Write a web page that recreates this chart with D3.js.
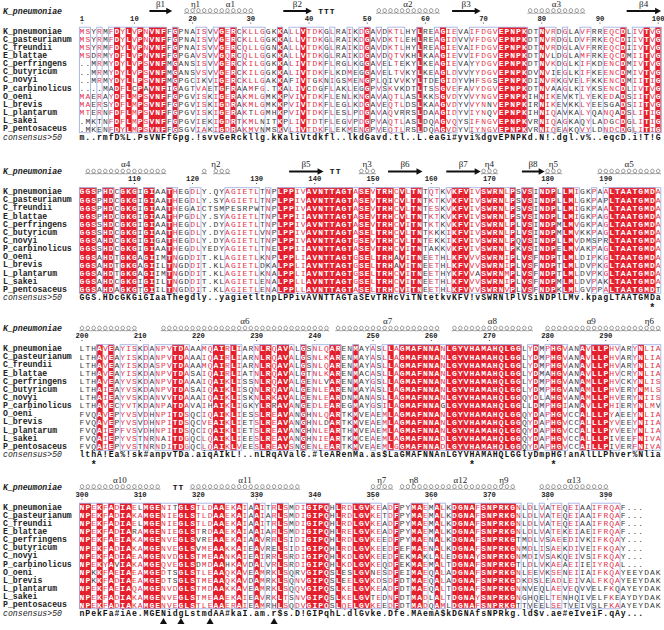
<!DOCTYPE html>
<html><head><meta charset="utf-8">
<script src="https://cdn.jsdelivr.net/npm/d3@7"></script>
<style>body{margin:0;background:#fff}svg{display:block}</style>
</head><body>
<svg id="c" width="664" height="630"></svg>
<script>
// ---------------- DATA ----------------
const names = ["K_pneumoniae","C_pasteurianum","C_freundii","E_blattae","C_perfringens","C_butyricum","C_novyi","P_carbinolicus","O_oeni","L_brevis","L_plantarum","L_sakei","P_pentosaceus"];
const consensusName = "consensus>50";
const headerName = "K_pneumoniae";

const block1 = [
"MSYRMFDYLVPNVNFFGPNAISVVGERCKLLGGKKALLVTDKG"+"LRAIKDGAVDKTLHYLREAGIEVAIFDGVEPNPKDTNVRDGLAVFRREQCDLIVTVG",
"MSYRMFDYLVPNVNFFGPNAISVVGERCKLLGGKKALLVTDKG"+"LRAIKDGAVDKTLEHLREAGIDVVVFDGVEPNPKDTNVRDGLDVFRKEQCDIIVTVG",
"MSYRMFDYLVPNVNFFGPNAISVVGERCQLLGGNKALLVTDKG"+"LRAIKDGAVDKTLHYLREAGIEVAIFDGVEPNPKDTNVRDGLAVFRREQCDIIVTVG",
"MSDRMYDFLVPNVNFFGPGAVSVVGQRCQLLGGKKALLVTDKG"+"LRAIKDGAVDQTVKHLKAAGIEVVIFDGVEPNPKDTNVLDGLAMFRKEQCDMIITVG",
"..MRMYDYLVPSVNFMGANSISVVGERCKILGGKKALIVTDKF"+"LRGLKGGAVELTEKYLKEAGIEVAYYDGVEPNPKDTNVKDGLKIFKDENCDMIVTVG",
"..MRMYDYLVPSVNFMGANSVSVVGERCKILGGKKALIVTDKF"+"LKDMEGGAVELTVKYLKEAGLDVVYYDGVEPNPKDVNVIEGLKIFKEENCDMIVTVG",
"..MRMYDYLLPSVNFMGPGCIKVIGERCKLLGAKKAFIVTGKN"+"IGSMENGPLQIVVKYLTDEGIDYVHFSGSEPNPKDINVRKGVELFKKENCDMIITIG",
"....MADFLCPAVNFIGAGTVAETGFRAAMFG.TKALIVCDGF"+"LAKLEGGPVSKVKDTLTSSGVEFAVYDGVEPNPKDTNVAAGLKIYKSENCDLIVTVG",
"MAERAYDFLMPSVNFFGPGVISKIGERAKMLGMKKPVIVTDKF"+"LENLKNGAVAQTLASLKKSGVDYVVYNGVEPNPKIHNIKEVKTLYEKEDADSIITVG",
"MAERSYDFLMPSVNFFGPGVISKIGDRAKMLGMKKPVIVTDKF"+"LEGLKDGAVEQTLDSLKAAGVDYVVYNNVEPNPKIRNIKEVKKLYEESGADSIITVG",
"MTERNFDFLMPSVNFFGPGVISKIGERAKTLGMHKPVIVTDKF"+"LESLPDGAVAQVRRSLDAAGIDYVIYNQVEPNPKIHNIQAVKALYQANQADSLITIG",
".MKTNFDFLMPSVNFFGPGVIEKIGDRTKMLNITKPLIVTDTF"+"LEGVPDGPVAQTLASLDQAGVQYSIFNGVEPNPKVRNIQAGKAQYLADGCDGLITIG",
".MKENFDYLMPSVNFFGSGVIAKIGDRAKMVNMSKVLIVTDKF"+"LEKMENGPVEQTLRSLDQAGVDYVIYNGVEPNPKVRNIQEAKQVYLDNDCDGLITIG"
];
const block2 = [
"GGSPHDCGKGIGIAATHEGDLY.QYAGIETLTNPLPPIVAVNT"+"TAGTASEVTRHCVLTNTQTKVKFVIVSWRNLPSVSINDPLLMIGKPAALTAATGMDA",
"GGSPHDCGKGIGIAATHEGDLY.SYAGIETLTNPLPPIVAVNT"+"TAGTASEVTRHCVLTNTKTKVKFVIVSWRNLPSVSINDPLLMLGKPAPLTAATGMDA",
"GGSPHDCGKGIGIAATHEGAICTSMPESRPWTNPLPPIVAVNT"+"TAGTASEVTRHCVLTNTESKVKFVIVSWRNLPSVSINDPLLMIGKPAALTAATGMDA",
"GGSPHDCGKGIGIAATHPGDLY.SYAGIETLTNPLPPIIAVNT"+"TAGTASEVTRHCVLTNTKTKVKFVIVSWRNLPSVSINDPLLMIGKPAGLTAATGMDA",
"GGSSHDCGKGIGIAATHEGDLY.DYAGIETLTNPLPPIVAVNT"+"TAGTASEVTRHCVITNTKTKVKFVIVSWRNLPLVSINDPMLMVGKPAGLTAATGMDA",
"GGSSHDCGKGIGIAATHEGDLY.DYAGIETLVNPLPPIVAVNT"+"TAGTASELTRHCVLTNTKKKIKFVIVSWRNLPLVSINDPMLMVKKPAGLTAATGMDA",
"GGSAHDCGKGIGIGATHEGDLY.DYAGIETLTNPLPPIVAVNT"+"TAGTGSEVTRHCVLTNTEKKIKFVIVSWRNLPQVSINDPLLMVDMSPRLTAATGMDA",
"GGSSHDCGKGIGIAATHEGDLYEDYAGIETLTNELPPIIAVNT"+"TAGTASEVTRHCVITNTAKKVKFVIVSWRNLPKVSINDPELMVAKPAGLTAATGMDA",
"GGSAHDTGKGAGIIMTNGDDIT.KLAGIETLKNPLPPLIAVNT"+"TAGTGSELTRHAVITNEETHLKFVVVSWRNIPLVSFNDPTLMLDIPKGLTAATGMDA",
"GGSAHDTGKGAGIILTNGDDIT.KLAGIETLDKALPPLIAVNT"+"TAGTGSELTRHAVITNEETHLKFVVVSWRNIPLVSFNDPTLMLDVPKGLTAATGMDA",
"GGSAHDTGKGAGIIMTNGDDIT.KLAGIETLKNALPPLIAVNT"+"TAGTGSELTRHCVITNEETHYKFVVASWRNMPLVSFNDPTLMLDVPKGLTAATGMDA",
"GGSAHDCGKGIGIILTNGDDIT.KLAGIETLENALPPLLAVNT"+"TAGTGSELTRHCVITNEETHLKFVVVSWRNIPLVSFNDPMLMLDVPAKLTAATGMDA",
"GGSAHDAGKGTGIILTNGDDIT.KLAGIETLENALPPLLAVNT"+"TAGTASELTRHCVITNEETHLKFVVVSWRNVPLVSFNDPKLMLGVPPALTAATGMDT"
];
const block3 = [
"LTHAVEAYISKDANPVTDAAAMQAIRLIARNLRQAVALGSNLQ"+"ARENMAYASLLAGMAFNNANLGYVHAMAHQLGGLYDMPHGVANAVLLPHVARYNLIA",
"LTHAVEAYISKDANPVTDAAAIQAIRLIARNLRQAVALGSNLK"+"ARENMAYASLLAGMAFNNANLGYVHAMAHQLGGLYDMPHGVANAVLLPHVARYNLIA",
"LTHAVEAYISKDASPVTDAAAMQAIRLIARNLRQAVALGSNLQ"+"ARENMAYASLLAGMAFNNANLGYVHAMAHQLGGLYDMPHGVANAVLLPHVARYNLIA",
"LTHAVEAYISKDANPVTDASAIQAIRLIATNLRQAVALGTNLK"+"ARENMACASLLAGMAFNNANLGYVHAMAHQLGGLYDMAHGVANAVLLPHVCRYNLIA",
"LTHAVEAYVSKDANPVTDAAAIQAIKLISSNLRQAVALGENLV"+"ARENMAYGSLLAGMAFNNANLGYVHAMAHQLGGLYDMPHGVANAMLLPHVCKYNLIS",
"LTHAIEAYVSKDANPVTDASAIQAIKLISQNLRQAVALGENLE"+"ARENMAYASLLAGMAFNNANLGYVHAMAHQLGGLYDMPHGVANAMLLPHVERYNMLS",
"LTHAIEAYVSKDANVVTDAAAIQAIKLISKNLRKAVALGENLE"+"ARDNMANASLLAGMAFNNANLGYVHAMAHQLGGQYDLAHGVANAMLLPHVERYNIIS",
"LTHAVECYVTKDANPATDAVAIHAIKLIGKYLRRAVANGEDLE"+"AREGMAYGSILAGMAFNNAGLGYVHAMAHQLGGLLDMPHGIANAVLLPHIERYNLMV",
"FVQAVEPYVSVDHNPITDSQCIQAIKLIESSLREAVANGHNLQ"+"ARTKMVEAEMLAGMAFNNANLGYVHAMAHQLGGQYDAPHGVCCALLLPYAEEYNLIA",
"FVQAVEPYVSVDHNPITDSQCVEAIKLIETSLREAVANGHNLD"+"ARTKMVEAEMLAGMAFNNANLGYVHAMAHQLGGQYDAPHGVCCALLLPYVEEYNIIA",
"FVQAIEPFVSVDHNPITDSQCIQAIKLIETSLREAVANGHNLE"+"ARTHMVEAEMLAGMAFNNANLGYVHAMAHQLGGQYDAPHGVCCALLLPYVEEYNLIA",
"FVQAIEPYVSTNRNAITDGQCLQAIKLIEESLREAVANGHNIE"+"ARTKMCEAEMLAGMAFNNADLGYVHAMAHQLGGQYDAPHGVCCALLLPIVEEFNIVA",
"FVQAIEPYVSTNRNDITDGQCLQAIKLVEESLREAVSNGENLE"+"ARTKMVEAEMLGGMAFNNADLGYVHAMAHQLGGQYDAPHGVCCAILLPIVERFNIVA"
];
const block4 = [
"NPEKFADIAELMGENITGLSTLDAAEKAIAAITRLSMDIGIPQHLRDLGVKEADFPYMAEMALKDGNAFSNPRKGN"+"LDLVAT"+"EQEIAAIFRQAF...",
"NPEKFADIAKAMGENIEGLSTLDAAEKAIAAIARLSMDIGIPQHLRDLGVKETDFPYMAEMALKDGNAFSNPRKGN"+"LDLVAT"+"EQEIAAIFRQAF...",
"NPEKFADIAELMGENIEGLSTLDAAEKAIAAITRLSMDIGIPQHLRDLGVKEADFPYMAEMALKDGNAFSNPRKGN"+"LDLVAT"+"EQEIAAIFRQAF...",
"NPEKFADIARAMGENIEGLSTRDAAEKAIAAIARLSMDIGIPQHLRELGVKEADFPYMAEMALKDGNAFSNPRKGN"+"LDLVAT"+"EKEIAEIFRQAF...",
"NPEKFAEIAKAMGENVEGLSVREAAEKAIAAVRRLSIDIGIPQHLRDLGVKEEDFPYMAENALKDGNAFSNPRKGT"+"MDLVSA"+"EEDIVKIFKQAY...",
"NPEKFADIAKAMGENVEGLSVMEAAKKAIEAVRELSIDIGIPQHLRDLGVKEEDFEFMAENALKDGNAFSNPRKGN"+"MDLISA"+"EKDIVEIFKQAY...",
"NPEKFADIAEAMGENVDGLSTMEAANKAIEAIRRLSRDIGIPQHLKDLGVKEEDFEKMAKLALEDGNAYSNPRKGN"+"MDIVSA"+"KQEIVSIFKQAY...",
"NPEKYAVIAKAMGEQVEGLSDMDAAHKAVDALVRLSRDIGIPQHLKDLGVKEQDFEKMAEMALTDGNAFSNPRKGT"+"LDLVKA"+"EAEIIEIYRQAL...",
"NPKKFAEIAEAMGEDTSGLSTLEAAQKAVEAMRKLSQRVGIPQSLESLGVNESDFEIMAEQALADGNAFSNPRKGN"+"LEEVKS"+"ENEIIAIFKQAYEEYDAK",
"NPKKFADIAEAMGEDTSGLSTMEAAQKAVDAMRKLSQNVGIPQSLEELGVKDSDFDTMAEQALADGNAFSNPRKGD"+"KDSLEA"+"DLEIVALFKQAYEEYDAK",
"NPEKFAEIAQAMGENVDGLSTMDAAKKAVEAMRKLSQQVGIPQSLKELGVKEADFDTMAEQALTDGNAFSNPRKGN"+"NVEQLA"+"EVEQVVELFKQAYEYDAK",
"NPEKFADIAKAMGENVEGLSTMEAAEKAIEAVRKLTSNVGIPQSLKELGVTEDNFDTMADLALTDGNAYSNPRKGN"+"GHQELT"+"ENHQIVELFKEAYDYDAK",
"NPEKFADIAKAMGENVEGLSTLEAAERAIEAMRHLSQDVGIPQSLQELGVKEEDFDTMADQAMLDGNAFSNPRKGT"+"TVEELS"+"ETVEIVSLFKAAYEYDAK"
];
const consensus = [
"m..rmfD%L.PsVNFfGpg.!svvGeRckllg.kKaliVtdkf"+"l..lkdGavd.tl..L.eaGi#yvi%dgvEPNPKd.N!.dgl.v%..eqcD.i!T!G",
"GGS.HDcGKGiGIaaThegdly..yagietltnpLPPivAVNT"+"TAGTaSEvTRHcViTNtetkvKFV!vSWRNlPlVSiNDPlLMv.kpagLTAATGMDa",
"lthA!Ea%!sk#anpvTDa.aiqAIkL!..nLRqAValG.#le"+"ARenMa.as$LaGMAFNNAnLGYVHAMAHQLGGlyDmpHG!anAlLLPhver%Nlia",
"nPekFa#iAe.MGENidgLstmdAA#kaI.am.r$s.D!GIPqhL.dlGvke.Dfe.MAemA$kDGNAfsNPRkg."+"ld$v.a"+"e#eIveiF.qAy..."
];
const blocks = [block1, block2, block3, block4];
const firstResidue = [1, 101, 200, 300];

// secondary structure of K_pneumoniae: [block, kind, fromCol, toCol, label]
const secStruct = [
 [0,"beta",13,16,"β1"],[0,"helix",19,22,"η1"],[0,"helix",23,30,"α1"],[0,"beta",36,40,"β2"],
 [0,"turn",42,44,"TTT"],[0,"helix",52,62,"α2"],[0,"beta",65,69,"β3"],[0,"helix",78,87,"α3"],[0,"beta",95,100,"β4"],
 [1,"helix",2,15,"α4"],[1,"helix",22,26,"η2"],[1,"beta",37,42,"β5"],[1,"turn",44,45,"TT"],[1,"helix",49,51,"η3"],
 [1,"beta",54,59,"β6"],[1,"beta",64,69,"β7"],[1,"helix",70,72,"η4"],[1,"beta",77,80,"β8"],[1,"helix",81,83,"η5"],[1,"helix",90,100,"α5"],
 [2,"helix",1,10,""],[2,"helix",15,43,"α6"],[2,"helix",45,62,"α7"],[2,"helix",65,78,"α8"],[2,"helix",81,96,"α9"],[2,"helix",97,100,"η6"],
 [3,"helix",1,14,"α10"],[3,"turn",17,18,"TT"],[3,"helix",20,38,"α11"],[3,"helix",51,54,"η7"],[3,"helix",56,60,"η8"],
 [3,"helix",61,71,"α12"],[3,"helix",72,75,"η9"],[3,"helix",80,91,"α13"]
];
// markers below consensus: [block, col, kind]
const markers = [[1,99,"star"],[2,3,"star"],[2,68,"star"],[2,82,"star"],
 [3,15,"tri"],[3,18,"tri"],[3,23,"tri"],[3,34,"tri"]];

// ---------------- LAYOUT / STYLE ----------------
const svg = d3.select("#c");
svg.append("rect").attr("width",664).attr("height",630).attr("fill","#fff");
const nCols = 100, colW = 5.82, left = 79.1, rowH = 8.15;
const blockTops = [0, 160.5, 317.5, 476];
const x = d3.scaleBand().domain(d3.range(1, nCols+1)).range([left, left + nCols*colW]).padding(0);
const bw = x.bandwidth();
const cx = c => x(c) + bw/2;
const MONO = "'Liberation Mono','DejaVu Sans Mono',monospace";
const SERIF = "'Liberation Serif','DejaVu Serif',serif";
const RED = "#e5202e", SIMRED = "#e2334a", DARK = "#3a3a3a", FRAME = "#a3b2e4";
const FS = 8.0;

const simSets = {I:"ILVM",L:"LIMV",V:"VILM",M:"MLIV",F:"FYW",Y:"YFWH",W:"WFY",K:"KRQ",R:"RKQ",
  D:"DEN",E:"EDQ",N:"NDQS",Q:"QEKN",S:"STA",T:"TS",A:"AGS",G:"GA",H:"HNY",P:"P",C:"C"};

function analyse(col){
  const n = col.length;
  const res = col.filter(c => c !== "." && c !== " ");
  if (res.length === n && res.every(c => c === res[0])) return {kind:"ident"};
  if (res.length < n*0.5) return {kind:"none"};
  let best = 0, bestSet = "";
  for (const c of new Set(res)) {
    const s = simSets[c] || c;
    const cnt = res.filter(r => s.includes(r)).length;
    if (cnt > best) { best = cnt; bestSet = s; }
  }
  if (best / res.length >= 0.7) return {kind:"sim", set:bestSet};
  return {kind:"none"};
}

blocks.forEach((rows, b) => {
  const top = blockTops[b];
  const g = svg.append("g");
  const y = d3.scaleBand().domain(d3.range(15)).range([top + 27, top + 27 + 15*rowH]);
  const cy = i => y(i) + rowH/2;
  const len = d3.max(rows, r => r.length);

  g.append("text").attr("x",3).attr("y",top+11).attr("dominant-baseline","central")
    .attr("font-family",MONO).attr("font-size",8.2).attr("font-style","italic").attr("font-weight","bold")
    .attr("fill","#222").text(headerName);

  names.forEach((nm,i) => g.append("text").attr("x",3).attr("y",cy(i)).attr("dominant-baseline","central")
    .attr("font-family",MONO).attr("font-size",8.2).attr("font-weight","bold").attr("fill","#222").text(nm));
  g.append("text").attr("x",3).attr("y",cy(13)).attr("dominant-baseline","central")
    .attr("font-family",MONO).attr("font-size",8.2).attr("font-style","italic").attr("fill","#222").text(consensusName);

  let num = firstResidue[b] - 1;
  for (let c = 1; c <= len; c++) {
    const ch = rows[0][c-1];
    if (ch && ch !== "." && ch !== " ") {
      num++;
      if (num % 10 === 0 || num === 1) {
        g.append("text").attr("x",cx(c)).attr("y",top+18.5).attr("text-anchor","middle").attr("dominant-baseline","central")
          .attr("font-family",MONO).attr("font-size",7.2).attr("font-weight","bold").attr("fill","#222").text(num);
        g.append("circle").attr("cx",cx(c)).attr("cy",top+23).attr("r",0.55).attr("fill","#222");
      }
    }
  }

  const info = [];
  for (let c = 1; c <= len; c++) info[c] = analyse(rows.map(r => r[c-1] || " "));
  for (let c = 1; c <= len; c++) {
    if (info[c].kind === "ident")
      g.append("rect").attr("x",x(c)).attr("y",y(0)).attr("width",bw+0.3).attr("height",13*rowH).attr("fill",RED);
  }
  rows.forEach((r,i) => {
    for (let c = 1; c <= r.length; c++) {
      const ch = r[c-1];
      if (ch === " ") continue;
      const inf = info[c];
      let fill = DARK, weight = "normal";
      if (inf.kind === "ident") { fill = "#fff"; weight = "bold"; }
      else if (inf.kind === "sim" && inf.set.includes(ch)) fill = SIMRED;
      g.append("text").attr("x",cx(c)).attr("y",cy(i)+0.3).attr("text-anchor","middle").attr("dominant-baseline","central")
        .attr("font-family",MONO).attr("font-size",FS).attr("font-weight",weight).attr("fill",fill).text(ch);
    }
  });
  let c = 1;
  while (c <= len) {
    if (info[c].kind !== "none") {
      let e = c;
      while (e+1 <= len && info[e+1].kind !== "none") e++;
      g.append("rect").attr("x",x(c)+0.3).attr("y",y(0)+0.2).attr("width",(e-c+1)*bw-0.6).attr("height",13*rowH-0.4)
        .attr("fill","none").attr("stroke",FRAME).attr("stroke-width",0.9);
      c = e+1;
    } else c++;
  }
  const cons = consensus[b];
  for (let k = 1; k <= cons.length; k++) {
    g.append("text").attr("x",cx(k)).attr("y",cy(13)+0.3).attr("text-anchor","middle").attr("dominant-baseline","central")
      .attr("font-family",MONO).attr("font-size",FS+0.2).attr("font-weight","bold").attr("fill","#111").text(cons[k-1]);
  }

  const ssY = top + 11, labY = top + 3.5;
  secStruct.filter(s => s[0] === b).forEach(([_, kind, a, z, lab]) => {
    const xa = x(a), xz = x(z) + bw;
    if (kind === "beta") {
      g.append("line").attr("x1",xa+0.5).attr("x2",xz-5).attr("y1",ssY).attr("y2",ssY).attr("stroke","#111").attr("stroke-width",2);
      g.append("path").attr("d",`M${xz-6},${ssY-3.2}L${xz},${ssY}L${xz-6},${ssY+3.2}Z`).attr("fill","#111");
    } else if (kind === "helix") {
      const p = d3.path();
      for (let cc = a; cc <= z; cc++) {
        if (rows[0][cc-1] === ".") continue;
        const x0 = x(cc), w = bw, yb = ssY + 2.3, yt = ssY - 2.3;
        p.moveTo(x0 + 0.2, yb);
        p.bezierCurveTo(x0 + 0.95*w, yb, x0 + 0.95*w, yt, x0 + 0.5*w, yt);
        p.bezierCurveTo(x0 + 0.05*w, yt, x0 + 0.05*w, yb, x0 + w - 0.2, yb);
      }
      g.append("path").attr("d",p.toString()).attr("fill","none").attr("stroke","#666").attr("stroke-width",0.7);
    } else if (kind === "turn") {
      for (let cc = a; cc <= z; cc++) {
        g.append("text").attr("x",cx(cc)).attr("y",ssY).attr("text-anchor","middle").attr("dominant-baseline","central")
          .attr("font-family",MONO).attr("font-size",8).attr("font-weight","bold").attr("fill","#111").text("T");
      }
    }
    if (lab && kind !== "turn") {
      g.append("text").attr("x",(xa+xz)/2).attr("y",labY).attr("text-anchor","middle").attr("dominant-baseline","central")
        .attr("font-family",SERIF).attr("font-size",9).attr("fill","#222").text(lab);
    }
  });

  markers.filter(m => m[0] === b).forEach(([_, col, kind]) => {
    if (kind === "star") {
      g.append("text").attr("x",cx(col)).attr("y",top+147.5).attr("text-anchor","middle").attr("dominant-baseline","central")
        .attr("font-family",MONO).attr("font-size",10).attr("font-weight","bold").attr("fill","#111").text("*");
    } else {
      g.append("path").attr("d",d3.symbol(d3.symbolTriangle,22)()).attr("transform",`translate(${cx(col)},${top+146})`).attr("fill","#111");
    }
  });
});
</script>
</body></html>
